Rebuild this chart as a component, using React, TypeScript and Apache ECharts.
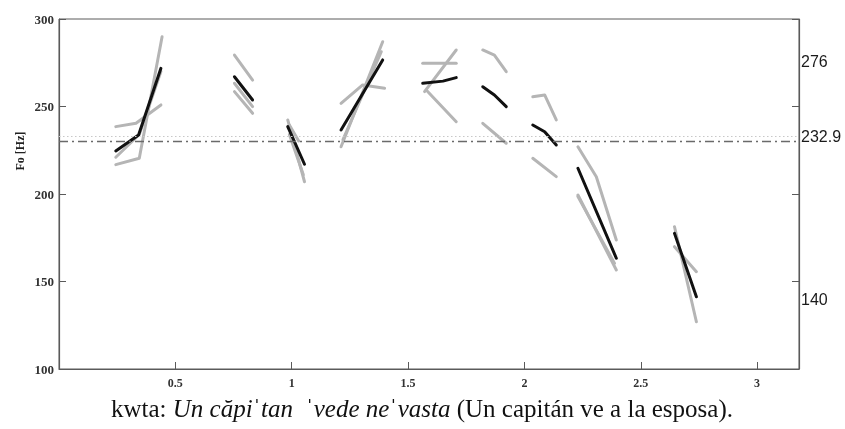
import React, { useEffect, useRef } from "react";
import * as echarts from "echarts";

type Pt = [number, number];

// Mean F0 contour (black), one segment per syllable
const meanContour: Pt[][] = [
  [[0.244, 224.6], [0.342, 233.7], [0.438, 271.8]],
  [[0.754, 267], [0.832, 253.7]],
  [[0.983, 238.5], [1.055, 217]],
  [[1.212, 236.6], [1.391, 276.6]],
  [[1.563, 263.3], [1.65, 264.5], [1.707, 266.5]],
  [[1.821, 261.3], [1.871, 256.6], [1.922, 249.9]],
  [[2.036, 239.4], [2.087, 235.6], [2.137, 228]],
  [[2.23, 214.7], [2.395, 163.3]],
  [[2.645, 177.5], [2.739, 141.3]],
];

// Individual repetitions (grey)
const repetition1: Pt[][] = [
  [[0.244, 238.5], [0.331, 240.4], [0.438, 250.9]],
  [[0.754, 279.4], [0.832, 265.1]],
  [[0.983, 242.3], [1.055, 207]],
  [[1.212, 251.8], [1.305, 262.3], [1.399, 260.4]],
  [[1.563, 274.7], [1.707, 274.7]],
  [[1.821, 282.3], [1.871, 279.4], [1.922, 269.9]],
  [[2.036, 255.6], [2.087, 256.6], [2.137, 242.3]],
  [[2.23, 227], [2.309, 209.9], [2.395, 173.7]],
  [[2.645, 181.3], [2.739, 127]],
];

const repetition2: Pt[][] = [
  [[0.244, 216.8], [0.345, 220.4], [0.443, 289.9]],
  [[0.754, 263.3], [0.832, 249.9]],
  [[0.99, 239.4], [1.03, 230.3]],
  [[1.212, 227], [1.391, 287]],
  [[1.571, 258.5], [1.707, 282.3]],
  [[1.821, 240.4], [1.922, 229]],
  [[2.036, 220.4], [2.137, 209.9]],
  [[2.23, 199.4], [2.395, 156.6]],
  [[2.645, 169.9], [2.739, 155.6]],
];

const repetition3: Pt[][] = [
  [[0.244, 221], [0.345, 234], [0.438, 270]],
  [[0.754, 258.5], [0.832, 246.1]],
  [[0.99, 234], [1.05, 211]],
  [[1.22, 231], [1.385, 281.3]],
  [[1.578, 259.4], [1.707, 241.3]],
  [[2.23, 198.5], [2.387, 160.4]],
];

// Right-hand reference values
const rightLabels = [276, 232.9, 140];
const dottedLevel = 232.9;
const dashDotLevel = 230;

const xTickLabels = ["0.5", "1", "1.5", "2", "2.5", "3"];

const GREY = "#b5b5b5";
const BLACK = "#111111";
const AXIS = "#5a5a5a";
const SERIF = "Liberation Serif";
const SANS = "Liberation Sans";

export default function App() {
  const ref = useRef<HTMLDivElement>(null);

  useEffect(() => {
    if (!ref.current) return;
    const chart = echarts.init(ref.current, undefined, { renderer: "svg" });

    const segSeries = (segs: Pt[][], color: string, z: number) =>
      segs.map((s) => ({
        type: "line",
        data: s,
        symbol: "none",
        silent: true,
        z,
        lineStyle: { color, width: 3, cap: "round", join: "round" },
      }));

    const series: any[] = [
      ...segSeries(repetition1, GREY, 2),
      ...segSeries(repetition2, GREY, 2),
      ...segSeries(repetition3, GREY, 2),
      ...segSeries(meanContour, BLACK, 3),
      {
        type: "line",
        data: [],
        silent: true,
        markLine: {
          silent: true,
          symbol: "none",
          animation: false,
          label: { show: false },
          data: [
            {
              yAxis: dashDotLevel,
              lineStyle: { color: "#6a6a6a", width: 1.3, type: [9, 4, 2, 4] },
            },
            {
              yAxis: dottedLevel,
              lineStyle: { color: "#c8c8c8", width: 1.2, type: [1.5, 2.5] },
            },
          ],
        },
      },
    ];

    chart.setOption({
      animation: false,
      grid: {
        left: 59,
        right: 46,
        top: 19,
        bottom: 60,
        show: true,
        borderColor: AXIS,
        borderWidth: 1,
      },
      xAxis: {
        type: "value",
        min: 0,
        max: 3.18,
        interval: 0.5,
        axisLine: { lineStyle: { color: AXIS, width: 1.2 } },
        axisTick: { inside: true, length: 7, lineStyle: { color: AXIS } },
        splitLine: { show: false },
        axisLabel: {
          fontFamily: SERIF,
          fontSize: 12,
          fontWeight: "bold",
          color: "#333",
          margin: 8,
          formatter: (v: number) => {
            const r = Math.round(v / 0.5);
            const idx = r - 1;
            return Math.abs(v / 0.5 - r) < 1e-6 && idx >= 0 && idx < xTickLabels.length
              ? xTickLabels[idx]
              : "";
          },
        },
      },
      yAxis: [
        {
          type: "value",
          min: 100,
          max: 300,
          interval: 50,
          axisLine: { show: true, lineStyle: { color: AXIS, width: 1.2 } },
          axisTick: { show: true, inside: true, length: 7, lineStyle: { color: AXIS } },
          splitLine: { show: false },
          axisLabel: {
            fontFamily: SERIF,
            fontSize: 13,
            fontWeight: "bold",
            color: "#333",
            margin: 5,
          },
        },
        {
          type: "value",
          position: "right",
          min: 100,
          max: 300,
          interval: 50,
          axisLine: { show: true, lineStyle: { color: AXIS, width: 1.2 } },
          axisTick: { show: true, inside: true, length: 7, lineStyle: { color: AXIS } },
          splitLine: { show: false },
          axisLabel: { show: false },
        },
      ],
      series,
    });

    const rightX = chart.convertToPixel({ xAxisIndex: 0 }, 3.18) as number;
    const rightTexts = rightLabels.map((v) => ({
      type: "text",
      x: rightX + 2,
      y: chart.convertToPixel({ yAxisIndex: 0 }, v) as number,
      silent: true,
      style: {
        text: String(v),
        fontFamily: SANS,
        fontSize: 16,
        fill: "#1a1a1a",
        align: "left",
        verticalAlign: "middle",
      },
    }));

    chart.setOption({
      graphic: [
        ...rightTexts,
        {
          type: "text",
          x: 20,
          y: 151,
          rotation: Math.PI / 2,
          silent: true,
          style: {
            text: "Fo [Hz]",
            fontFamily: SERIF,
            fontSize: 12,
            fontWeight: "bold",
            fill: "#222",
            align: "center",
            verticalAlign: "middle",
          },
        },
        {
          type: "text",
          x: 422,
          y: 408,
          silent: true,
          style: {
            text: "{n|kwta: }{i|Un căpiˈtan  ˈvede neˈvasta}{n| (Un capitán ve a la esposa).}",
            fontFamily: SERIF,
            fontSize: 25,
            align: "center",
            verticalAlign: "middle",
            rich: {
              n: { fontFamily: SERIF, fontSize: 25, fill: "#111" },
              i: { fontFamily: SERIF, fontSize: 25, fontStyle: "italic", fill: "#111" },
            },
          },
        },
      ],
    });

    return () => chart.dispose();
  }, []);

  return <div ref={ref} style={{ position: "fixed", left: 0, top: 0, width: 845, height: 429 }} />;
}
